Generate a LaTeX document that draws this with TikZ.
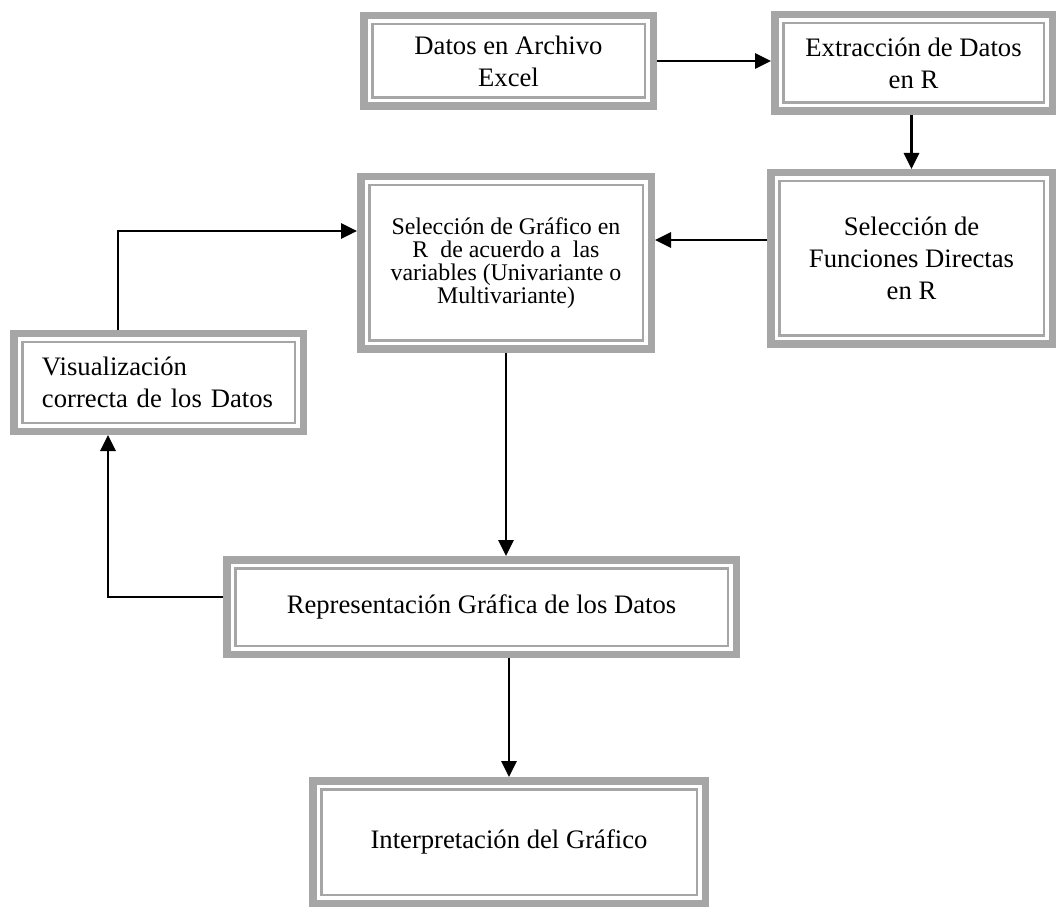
\documentclass[tikz,border=0pt]{standalone}
\usepackage{fontspec}
\setmainfont{Liberation Serif}
\usetikzlibrary{arrows.meta}

\newlength{\du}
\setlength{\du}{0.45pt}
\definecolor{bordecolor}{rgb}{0.650000, 0.650000, 0.650000}

\tikzset{
  caja/.style={rectangle, draw=bordecolor, line width=7.5\du, fill=white,
    inner sep=0pt, align=center, font=\fontsize{12}{14.5}\selectfont,
    path picture={\draw[bordecolor, line width=2.5\du]
      ([xshift=8.5\du,yshift=8.5\du]path picture bounding box.south west) rectangle
      ([xshift=-8.5\du,yshift=-8.5\du]path picture bounding box.north east);}},
  flecha/.style={draw=black, line width=2.8\du,
    -{Triangle[length=7.2pt,width=6.75pt]}}
}

\begin{document}
\begin{tikzpicture}[x=1\du, y=-1\du]
\useasboundingbox (0,0) rectangle (1057,907);

% cajas
\node[caja, minimum width=289.5\du, minimum height=90.5\du] (datos) at (508.5,61)
  {Datos en Archivo\\Excel};
\node[caja, minimum width=277.5\du, minimum height=96.5\du] (extrac) at (913.5,63)
  {Extracción de Datos\\en R};
\node[caja, minimum width=281.5\du, minimum height=171.5\du] (func) at (911.5,258.5)
  {Selección de\\Funciones Directas\\en R};
\node[caja, minimum width=290.5\du, minimum height=172.5\du,
  font=\fontsize{10.75}{10.4}\selectfont] (graf) at (506,263)
  {Selección de Gráfico en\\R\ \ de acuerdo a\ \ las\\variables (Univariante o\\Multivariante)};
\node[caja, minimum width=289.5\du, minimum height=97.5\du, align=left,
  text width=233\du, inner xsep=28\du] (vis) at (158.5,382.5)
  {Visualización\\correcta de los Datos};
\node[caja, minimum width=509.5\du, minimum height=94.5\du] (rep) at (481.5,607)
  {Representación Gráfica de los Datos};
\node[caja, minimum width=392.5\du, minimum height=122.5\du] (interp) at (509,842)
  {Interpretación del Gráfico};

% puntos de quiebre
\coordinate (c1) at (118,231);
\coordinate (c2) at (108,597);
\coordinate (c3) at (700,240);

% conectores
\draw[flecha] (datos.east) -- (datos.east -| extrac.west);
\draw[flecha] (func.north |- extrac.south) -- (func.north);
\draw[flecha] (func.west |- c3) -- (graf.east |- c3);
\draw[flecha] (vis.north -| c1) -- (c1) -- (graf.west |- c1);
\draw[flecha] (graf.south) -- (graf.south |- rep.north);
\draw[flecha] (rep.west |- c2) -- (c2) -- (c2 |- vis.south);
\draw[flecha] (interp.north |- rep.south) -- (interp.north);
\end{tikzpicture}
\end{document}
